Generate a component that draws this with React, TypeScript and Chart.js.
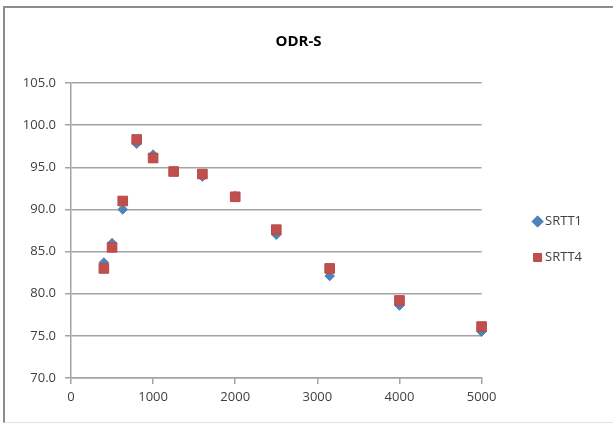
import React, { useEffect, useRef } from "react";
import { Chart, registerables } from "chart.js";

Chart.register(...registerables);

const chartTitle = "ODR-S";
const frequencies = [400, 500, 630, 800, 1000, 1250, 1600, 2000, 2500, 3150, 4000, 5000];
const srtt1 = [83.7, 86.0, 90.0, 97.8, 96.5, 94.5, 93.9, 91.6, 87.0, 82.1, 78.6, 75.5];
const srtt4 = [83.0, 85.5, 91.0, 98.3, 96.1, 94.5, 94.2, 91.5, 87.6, 83.0, 79.2, 76.1];
const seriesNames = ["SRTT1", "SRTT4"];
const xTicks = [0, 1000, 2000, 3000, 4000, 5000];
const yMin = 70;
const yMax = 105;
const yStep = 5;

const FONT = "'Open Sans', 'Liberation Sans', sans-serif";
const GRID = "#a3a3a3";
const TEXT = "#404040";

export default function App() {
  const ref = useRef<HTMLCanvasElement | null>(null);

  useEffect(() => {
    if (!ref.current) return;
    const chart = new Chart(ref.current, {
      type: "scatter",
      data: {
        datasets: [
          {
            label: seriesNames[0],
            data: frequencies.map((f, i) => ({ x: f, y: srtt1[i] })),
            backgroundColor: "#4f81bd",
            borderColor: "#4f81bd",
            pointStyle: "rectRot",
            pointRadius: 4.8,
            pointBorderWidth: 1,
            order: 1,
            clip: false,
          },
          {
            label: seriesNames[1],
            data: frequencies.map((f, i) => ({ x: f, y: srtt4[i] })),
            backgroundColor: "#c0504d",
            borderColor: "#b94a47",
            pointStyle: "rect",
            pointRadius: 6.8,
            pointBorderWidth: 1,
            order: 0,
            clip: false,
          },
        ],
      },
      options: {
        responsive: true,
        maintainAspectRatio: false,
        animation: false,
        layout: { padding: { left: 0, right: 21, top: 0, bottom: 0 } },
        plugins: {
          title: {
            display: true,
            text: chartTitle,
            color: "#000",
            font: { family: FONT, size: 15, weight: "bold" },
            padding: { top: 25, bottom: 32 },
          },
          legend: {
            display: true,
            position: "right",
            fullSize: false,
            align: "center",
            title: { display: true, text: " ", font: { size: 12, lineHeight: 1.5 } },
            labels: {
              usePointStyle: true,
              boxWidth: 2,
              boxHeight: 8,
              padding: 23,
              color: TEXT,
              font: { family: FONT, size: 13 },
              sort: (a: any, b: any) => a.datasetIndex - b.datasetIndex,
            },
          },
          tooltip: { enabled: false },
        },
        scales: {
          x: {
            type: "linear",
            position: "bottom",
            min: 0,
            max: 5000,
            afterBuildTicks: (s: any) => {
              s.ticks = xTicks.map((v) => ({ value: v }));
            },
            grid: {
              drawOnChartArea: false,
              drawTicks: true,
              tickLength: 6,
              color: GRID,
              lineWidth: 1.5,
            },
            border: { display: true, color: GRID, width: 1.5 },
            ticks: {
              color: TEXT,
              font: { family: FONT, size: 13 },
              padding: 5,
              maxRotation: 0,
              callback: (v: any) => String(v),
            },
            afterFit: (s: any) => {
              s.height = 44;
            },
          },
          y: {
            type: "linear",
            position: "left",
            min: yMin,
            max: yMax,
            ticks: {
              stepSize: yStep,
              color: TEXT,
              font: { family: FONT, size: 13 },
              padding: 9,
              callback: (v: any) => Number(v).toFixed(1),
            },
            grid: {
              drawOnChartArea: true,
              drawTicks: true,
              tickLength: 6,
              color: GRID,
              lineWidth: 1.5,
            },
            border: { display: true, color: GRID, width: 1.5 },
            afterFit: (s: any) => {
              s.width = 66;
            },
          },
          gap: {
            type: "linear",
            position: "right",
            display: true,
            grid: { display: false, drawTicks: false },
            ticks: { display: false },
            border: { display: false },
            afterFit: (s: any) => {
              s.width = 32;
            },
          },
        },
      },
    } as any);
    return () => chart.destroy();
  }, []);

  return (
    <div
      style={{
        position: "fixed",
        left: 3,
        top: 6,
        width: 630,
        height: 417,
        boxSizing: "border-box",
        borderTop: "2px solid #8c8c8c",
        borderLeft: "2px solid #8c8c8c",
        borderBottom: "1px solid #e2e2e2",
        background: "#fff",
        overflow: "hidden",
      }}
    >
      <div style={{ position: "absolute", left: 0, top: 0, width: 608, height: 414 }}>
        <canvas ref={ref} />
      </div>
    </div>
  );
}
